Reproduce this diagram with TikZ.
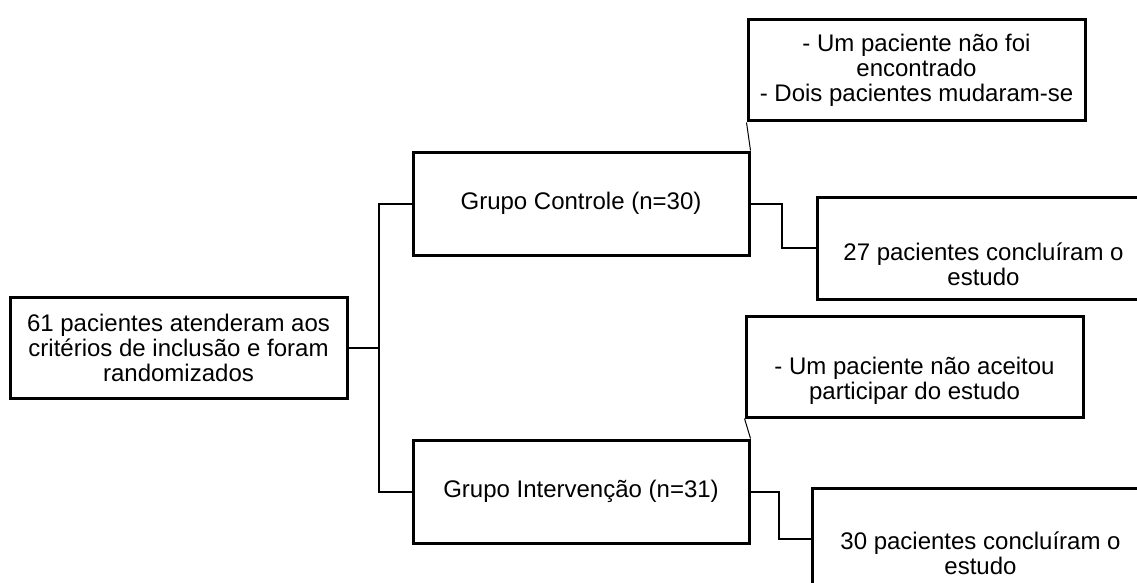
\documentclass[tikz,border=0pt]{standalone}
\usepackage{fontspec}
\setmainfont{Liberation Sans}
\begin{document}
\begin{tikzpicture}[x=1pt,y=-1pt,
  box/.style={draw, line width=3pt, inner sep=0pt, align=center,
    font=\fontsize{24}{25}\selectfont},
  txt/.style={inner sep=0pt, align=center, font=\fontsize{24}{25}\selectfont},
  conn/.style={line width=2pt},
  thin/.style={line width=1pt}]
\useasboundingbox (0,0) rectangle (1137,583);
% boxes
\node[box, minimum width=337pt, minimum height=101pt] (main) at (178.5,347.5)
  {61 pacientes atenderam aos\\critérios de inclusão e foram\\randomizados};
\node[box, minimum width=336pt, minimum height=103pt] (ctrl) at (581,203.5)
  {Grupo Controle (n=30)};
\node[box, minimum width=336pt, minimum height=103pt] (int) at (581,491.5)
  {Grupo Intervenção (n=31)};
\node[box, minimum width=337pt, minimum height=101pt] (note1) at (916.5,70.5)
  {- Um paciente não foi\\encontrado\\- Dois pacientes mudaram-se};
\node[box, minimum width=337pt, minimum height=101pt] (note2) at (914.5,366.5) {};
\node[txt] (note2t) at (914.5,381) {- Um paciente não aceitou\\participar do estudo};
\node[box, minimum width=333pt, minimum height=102pt] (c27) at (983.5,248) {};
\node[txt] (c27t) at (983.5,264) {27 pacientes concluíram o\\estudo};
\node[box, minimum width=337pt, minimum height=101pt] (c30) at (980.5,538.5) {};
\node[txt] (c30t) at (980.5,553.5) {30 pacientes concluíram o\\estudo};
% connectors
\coordinate (spine) at (379,347.5);
\coordinate (k1) at (782,225);
\coordinate (k2) at (779,515);
\draw[conn] (main.east) -- (spine);
\draw[conn] (ctrl.west) -| (spine) |- (int.west);
\draw[conn] (ctrl.east) -| (k1) |- (c27.west);
\draw[conn] (int.east) -| (k2) |- (c30.west);
\draw[thin] (note1.south west) -- (ctrl.north east);
\draw[thin] (note2.south west) -- (int.north east);
\end{tikzpicture}
\end{document}
